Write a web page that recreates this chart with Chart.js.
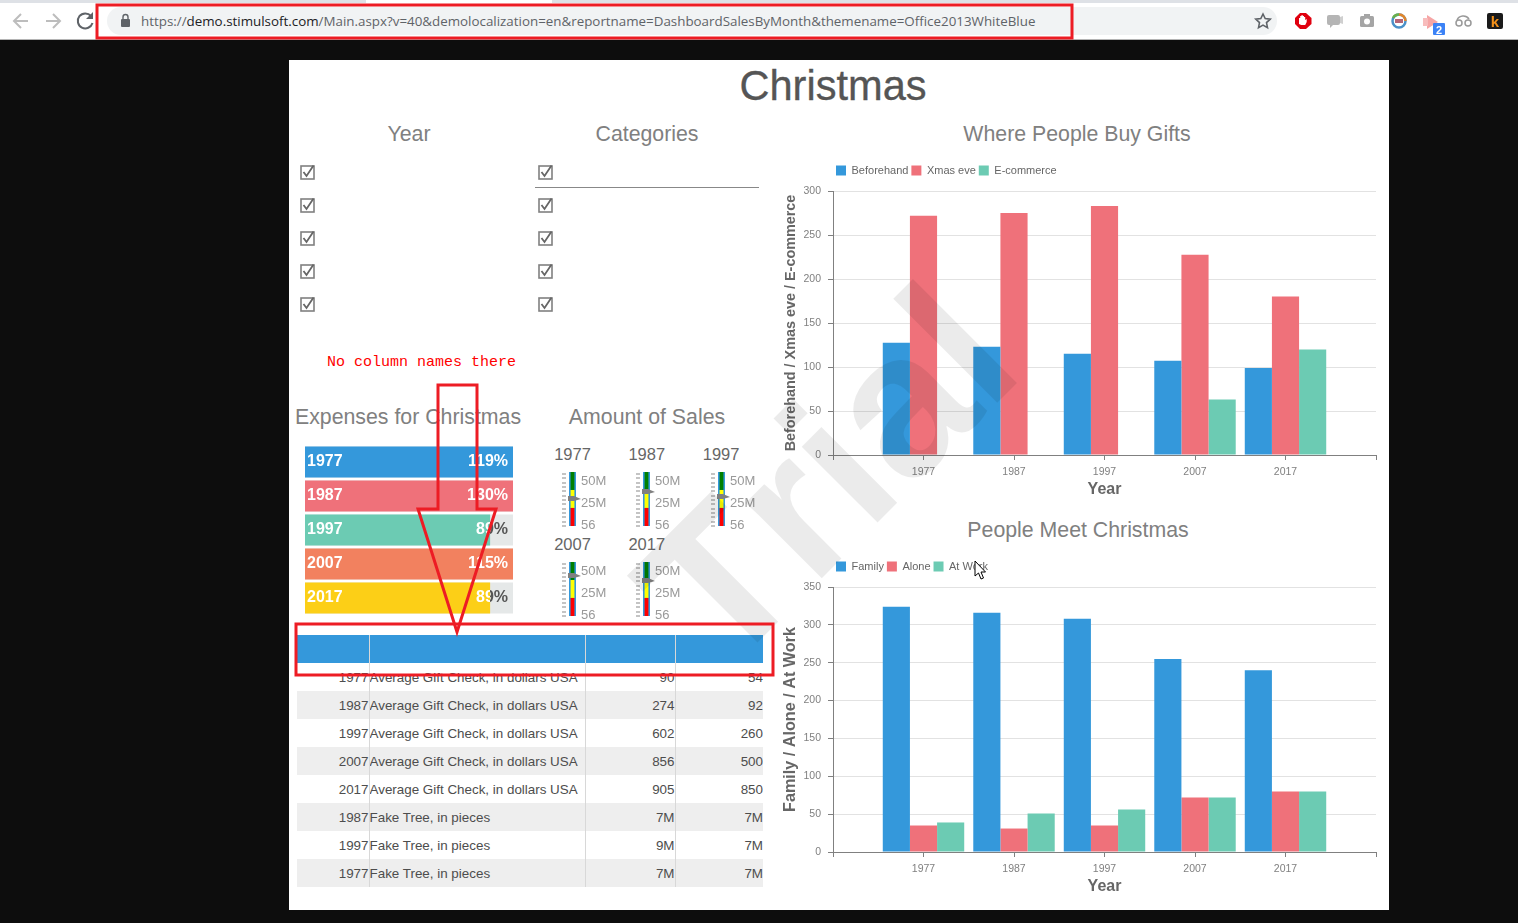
<!DOCTYPE html>
<html>
<head>
<meta charset="utf-8">
<title>Christmas</title>
<script src="https://cdn.jsdelivr.net/npm/chart.js@4/dist/chart.umd.min.js"></script>
<style>
    html, body { margin: 0; padding: 0; width: 1518px; height: 923px; overflow: hidden; background: #0d0d0d; font-family: "Liberation Sans", Arial, sans-serif; }
    .abs { position: absolute; }

    /* browser toolbar */
    #toolbar { position: absolute; left: 0; top: 0; width: 1518px; height: 39px; background: #fff; border-bottom: 1px solid #b4b4b4; }
    #tabs { position: absolute; left: 0; top: 0; width: 1518px; height: 3px; background: linear-gradient(to right, #dee1e6 366px, #fff 366px, #fff 552px, #dee1e6 552px); }
    #omnibox { position: absolute; left: 107px; top: 7px; width: 1170px; height: 28px; border-radius: 14px; background: #f1f3f4; }
    #url { position: absolute; left: 141px; top: 12px; font: 13.36px/18px "Open Sans", sans-serif; color: #5f6368; white-space: nowrap; }
    #url b { font-weight: normal; color: #202124; }

    /* report page */
    #page { position: absolute; left: 289px; top: 60px; width: 1100px; height: 850px; background: #fff; overflow: hidden; }
    .title { position: absolute; text-align: center; white-space: nowrap; color: #808080; font-size: 21.3px; line-height: 26px; transform: translateX(-50%); }
    #report-title { position: absolute; left: 544px; top: 1px; transform: translateX(-50%); font-size: 41.6px; line-height: 50px; color: #555; -webkit-text-stroke: 0.3px #555; }
    #no-columns { position: absolute; left: 38px; top: 294px; font: 15px/18px "Liberation Mono", monospace; color: #ff0000; white-space: nowrap; }
    #cat-line { position: absolute; left: 246px; top: 127px; width: 224px; height: 1px; background: #888; }
    .gauge-year { position: absolute; font-size: 16.5px; line-height: 20px; color: #666; transform: translateX(-50%); }
    canvas { position: absolute; }

    /* table */
    #grid { position: absolute; left: 8px; top: 575px; width: 466px; border-collapse: collapse; table-layout: fixed; font-size: 13.4px; color: #4d4d4d; }
    #grid th { height: 28px; padding: 0; background: #3498db; }
    #grid td { height: 28px; padding: 0; white-space: nowrap; overflow: hidden; text-align: right; }
    #grid th + th, #grid td + td { border-left: 1px solid #d8d8d8; }
    #grid td.name { text-align: left; }
    #grid tr:nth-child(even) td { background: #eeeeee; }

    #overlay { position: absolute; left: 0; top: 0; pointer-events: none; }
</style>
</head>
<body>

<div id="toolbar"><div id="tabs"></div><div id="omnibox"></div></div>
<div id="url">https://<b>demo.stimulsoft.com</b>/Main.aspx?v=40&amp;demolocalization=en&amp;reportname=DashboardSalesByMonth&amp;themename=Office2013WhiteBlue</div>

<div id="page">
    <div id="report-title">Christmas</div>
    <div class="title" style="left:120px;top:61px">Year</div>
    <div class="title" style="left:358px;top:61px">Categories</div>
    <div class="title" style="left:788px;top:61px">Where People Buy Gifts</div>
    <div class="title" style="left:119px;top:344px">Expenses for Christmas</div>
    <div class="title" style="left:358px;top:344px">Amount of Sales</div>
    <div class="title" style="left:789px;top:457px">People Meet Christmas</div>
    <div id="checks"></div>
    <div id="cat-line"></div>
    <div id="no-columns">No column names there</div>
    <div id="gauges"></div>
    <canvas id="expensesChart" width="208" height="170" style="left:16px;top:385px"></canvas>
    <canvas id="giftsChart" width="600" height="340" style="left:491px;top:100px"></canvas>
    <canvas id="meetChart" width="600" height="341" style="left:491px;top:496px"></canvas>
    <table id="grid"><colgroup><col style="width:72px"><col style="width:216px"><col style="width:90px"><col style="width:88px"></colgroup>
        <thead><tr><th></th><th></th><th></th><th></th></tr></thead><tbody></tbody></table>
</div>

<svg id="overlay" width="1518" height="923" xmlns="http://www.w3.org/2000/svg">
    <!-- toolbar icons -->
    <g fill="none" stroke="#bdbdbd" stroke-width="2">
        <path d="M28 21H15M21 14l-7 7 7 7"/>
        <path d="M46 21h13M53 14l7 7-7 7"/>
    </g>
    <path d="M91 16a7.500 7.500 0 1 0 1.500 7" fill="none" stroke="#5f6368" stroke-width="2"/>
    <path d="M93 12v7h-7z" fill="#5f6368"/>
    <rect x="121" y="19" width="9" height="8" rx="1" fill="#5f6368"/>
    <path d="M123 19v-2a2.500 2.500 0 0 1 5 0v2" fill="none" stroke="#5f6368" stroke-width="1.400"/>
    <path d="M1263 14l2.200 4.600 5 .6-3.700 3.400 1 5-4.500-2.500-4.500 2.500 1-5-3.700-3.400 5-.6z" fill="none" stroke="#5f6368" stroke-width="1.600"/>
    <path d="M1300 13h6l5.500 5v6l-5.500 5h-6l-5-5v-6z" fill="#e0000f"/>
    <path d="M1299 24v-6h1.200v-2h1.300v-1h1.200v1h1.300v1h1.200v3l1.500-1v3l-1.500 3h-4z" fill="#fff"/>
    <rect x="1327" y="15" width="13" height="10" rx="2" fill="#b5b5b5"/><path d="M1330 25v3l3-3z" fill="#b5b5b5"/><path d="M1340 17l3-1v8l-3-1z" fill="#cfcfcf"/>
    <rect x="1360" y="16" width="14" height="11" rx="1.500" fill="#a5a5a5"/><circle cx="1367" cy="21.500" r="3" fill="#fff"/><rect x="1364" y="14" width="6" height="3" fill="#a5a5a5"/>
    <circle cx="1399" cy="21" r="6.500" fill="none" stroke="#4a90c8" stroke-width="2.500"/><path d="M1399 14.500a6.500 6.500 0 0 1 6.500 6.500" fill="none" stroke="#e0862d" stroke-width="2.500"/><path d="M1393 18a6.500 6.500 0 0 1 6-3.500" fill="none" stroke="#6ab04c" stroke-width="2.500"/><rect x="1395" y="19" width="8" height="4" fill="#b56576"/>
    <path d="M1427 15l11 7-11 7z" fill="#f6a5a5"/><rect x="1423" y="18" width="5" height="8" fill="#f8bcbc"/>
    <rect x="1433" y="23" width="12" height="12" rx="1" fill="#3b82f6"/><text x="1439" y="33.500" font-size="11" font-weight="bold" fill="#fff" text-anchor="middle" font-family="Liberation Sans">2</text>
    <g fill="none" stroke="#999" stroke-width="1.500"><circle cx="1459" cy="23" r="3"/><circle cx="1468" cy="23" r="3"/><path d="M1457 20a7 7 0 0 1 12-1"/></g>
    <rect x="1487" y="13" width="16" height="16" rx="2" fill="#1a1a1a"/><text x="1495" y="27" font-size="15" font-weight="bold" fill="#f39019" text-anchor="middle" font-family="Liberation Sans">k</text>

    <!-- trial watermark -->
    <text transform="translate(724 676) rotate(-45)" font-family="Liberation Sans" font-weight="bold" font-size="203" fill="rgba(0,0,0,0.08)" style="font-kerning:none">Trial</text>

    <!-- red annotations -->
    <g fill="none" stroke="#ed1c24" stroke-width="3">
        <rect x="97" y="5" width="975" height="33"/>
        <rect x="296" y="624" width="477" height="51"/>
        <path d="M438 385H477V509H496L457 632L418 509H438Z"/>
    </g>

    <!-- mouse pointer -->
    <path d="M975 561v15l3.500-3 2.500 6 2.500-1-2.500-6h4.500z" fill="#fff" stroke="#000" stroke-width="1"/>
</svg>

<script>
// Where People Buy Gifts
const xLabels = ['', '1977', '1987', '1997', '2007', '2017', ''];
const giftNames = ['Beforehand', 'Xmas eve', 'E-commerce'];
const beforehand = [null, 127.5, 123, 115, 107, 99, null];
const xmasEve = [null, 272, 275, 283, 227.5, 180, null];
const eCommerce = [null, 0, 0, 0, 63, 120, null];

// People Meet Christmas
const meetNames = ['Family', 'Alone', 'At Work'];
const family = [null, 324, 316, 308, 255, 240, null];
const alone = [null, 35, 31, 35, 72, 80, null];
const atWork = [null, 39, 51, 56, 72, 80, null];

// Expenses for Christmas
const expenseYears = ['1977', '1987', '1997', '2007', '2017'];
const expensePercent = [119, 130, 89, 115, 89];
const expenseTrack = [100, 100, 100, 100, 100];
const expenseColors = ['#3498db', '#ef717a', '#6ccbb3', '#f2815f', '#fccf17'];

// Amount of Sales, in millions
const gaugeYears = ['1977', '1987', '1997', '2007', '2017'];
const gaugeValues = [30.2, 38.4, 31.9, 44.9, 39.5];
const gaugeBandRed = [-1.2, 19.6];
const gaugeBandYellow = [19.6, 40.3];
const gaugeBandGreen = [40.3, 61];
const gaugeTickValues = [0, 25, 50];
const gaugeTickLabels = ['56', '25M', '50M'];
const gaugeMinorTicks = [0, 5, 10, 15, 20, 25, 30, 35, 40, 45, 50, 55, 60];

// Table rows
const tableYears = ['1977', '1987', '1997', '2007', '2017', '1987', '1997', '1977'];
const tableNames = ['Average Gift Check, in dollars USA', 'Average Gift Check, in dollars USA', 'Average Gift Check, in dollars USA', 'Average Gift Check, in dollars USA', 'Average Gift Check, in dollars USA', 'Fake Tree, in pieces', 'Fake Tree, in pieces', 'Fake Tree, in pieces'];
const tableFirst = ['90', '274', '602', '856', '905', '7M', '9M', '7M'];
const tableSecond = ['54', '92', '260', '500', '850', '7M', '7M', '7M'];

const BLUE = '#3498db', RED = '#ef717a', GREEN = '#6ccbb3';
const FONT = '"Liberation Sans", Arial, sans-serif';
const AXIS = '#808080';

Chart.defaults.font.family = FONT;
Chart.defaults.animation = false;
Chart.defaults.responsive = false;
Chart.defaults.devicePixelRatio = 1;
Chart.defaults.plugins.tooltip.enabled = false;

// Checkbox column
const checks = document.getElementById('checks');
[10.5, 248.5].forEach(left => {
    [105, 138, 171, 204, 237].forEach(top => {
        checks.innerHTML += `<svg class="abs" style="left:${left}px;top:${top - 1}px" width="16" height="17">
            <rect x="1" y="2" width="13" height="13" fill="none" stroke="#808080" stroke-width="1.6"/>
            <path d="M3.500 8l3 4 7-10.500" fill="none" stroke="#666" stroke-width="1.800"/></svg>`;
    });
});

// Table body
const tbody = document.querySelector('#grid tbody');
tableYears.forEach((year, i) => {
    tbody.innerHTML += `<tr><td>${year}</td><td class="name">${tableNames[i]}</td><td>${tableFirst[i]}</td><td>${tableSecond[i]}</td></tr>`;
});

// Adds room under the legend, the plot starts lower than the legend box
const legendGap = {
    id: 'legendGap',
    beforeInit(chart) {
        const fit = chart.legend.fit;
        chart.legend.fit = function () {
            fit.call(this);
            this.height = 29;
        };
    }
};

function groupedBars(id, names, seriesList, yMax, yTitle, yTitleSize, yTitlePad) {
    const colors = [BLUE, RED, GREEN];
    return new Chart(document.getElementById(id), {
        type: 'bar',
        data: {
            labels: xLabels,
            datasets: seriesList.map((values, i) => ({
                label: names[i],
                data: values,
                backgroundColor: colors[i],
                borderWidth: 0,
                categoryPercentage: 0.9,
                barPercentage: 1
            }))
        },
        plugins: [legendGap],
        options: {
            layout: { autoPadding: false, padding: { top: 2, right: 4 } },
            plugins: {
                legend: {
                    position: 'top',
                    align: 'start',
                    fullSize: false,
                    labels: { boxWidth: 10, boxHeight: 10, padding: 3, color: '#666', font: { size: 11 } }
                }
            },
            scales: {
                x: {
                    offset: false,
                    afterFit(axis) {
                        axis.height = 45;
                        axis.paddingLeft = 0;
                        axis.paddingRight = 0;
                    },
                    grid: { offset: false, drawOnChartArea: false, tickLength: 5, tickColor: AXIS },
                    border: { color: AXIS },
                    ticks: { color: AXIS, font: { size: 10.5 }, padding: 6, maxRotation: 0, autoSkip: false },
                    title: { display: true, text: 'Year', color: '#666', font: { size: 16, weight: 'bold' }, padding: { top: 0, bottom: 1 } }
                },
                y: {
                    min: 0,
                    max: yMax,
                    afterFit(axis) { axis.width = 53; },
                    grid: { color: '#e2e2e2', tickLength: 5, tickColor: AXIS },
                    border: { color: AXIS },
                    ticks: { stepSize: 50, color: AXIS, font: { size: 10.5 }, padding: 7 },
                    title: { display: true, text: yTitle, color: '#666', font: { size: yTitleSize, weight: 'bold' }, padding: { top: yTitlePad, bottom: 0 } }
                }
            }
        }
    });
}

groupedBars('giftsChart', giftNames, [beforehand, xmasEve, eCommerce], 300, 'Beforehand / Xmas eve / E-commerce', 14.4, 2);
groupedBars('meetChart', meetNames, [family, alone, atWork], 350, 'Family / Alone / At Work', 16.2, 1);

// Labels over the expense bars: white over the bar, grey over the track
const expenseLabels = {
    id: 'expenseLabels',
    afterDatasetsDraw(chart) {
        const { ctx, chartArea } = chart;
        const bars = chart.getDatasetMeta(0).data;
        ctx.save();
        ctx.font = 'bold 16px ' + FONT;
        ctx.textBaseline = 'middle';
        bars.forEach((bar, i) => {
            ctx.textAlign = 'left';
            ctx.fillStyle = '#fff';
            ctx.fillText(expenseYears[i], chartArea.left + 2, bar.y);
            const right = chartArea.right - 5;
            const text = expensePercent[i] + '%';
            ctx.textAlign = 'right';
            ctx.save();
            ctx.beginPath();
            ctx.rect(Math.min(bar.x, chartArea.right), chartArea.top, chartArea.right, chartArea.height);
            ctx.clip();
            ctx.fillStyle = '#555';
            ctx.fillText(text, right, bar.y);
            ctx.restore();
            ctx.save();
            ctx.beginPath();
            ctx.rect(chartArea.left, chartArea.top, Math.min(bar.x, chartArea.right), chartArea.height);
            ctx.clip();
            ctx.fillStyle = '#fff';
            ctx.fillText(text, right, bar.y);
            ctx.restore();
        });
        ctx.restore();
    }
};

new Chart(document.getElementById('expensesChart'), {
    type: 'bar',
    data: {
        labels: expenseYears,
        datasets: [
            { data: expensePercent, backgroundColor: expenseColors, order: 1 },
            { data: expenseTrack, backgroundColor: '#e5e8e8', order: 2 }
        ]
    },
    plugins: [expenseLabels],
    options: {
        indexAxis: 'y',
        layout: { autoPadding: false, padding: 0 },
        plugins: { legend: { display: false } },
        datasets: { bar: { categoryPercentage: 1, barPercentage: 31 / 34, borderWidth: 0 } },
        scales: {
            x: { display: false, min: 0, max: 100 },
            y: { display: false, stacked: true }
        }
    }
});

// Thermometer marks: scale dashes on the left and the arrow for the value
const gaugeMarks = {
    id: 'gaugeMarks',
    afterDatasetsDraw(chart, args, opts) {
        const { ctx, chartArea, scales } = chart;
        ctx.save();
        ctx.fillStyle = '#c4c4c4';
        gaugeMinorTicks.forEach(v => {
            ctx.fillRect(chartArea.left - 7, Math.round(scales.y.getPixelForValue(v)), 4, 2);
        });
        const y = Math.round(scales.y.getPixelForValue(opts.value));
        ctx.fillStyle = '#808080';
        ctx.beginPath();
        ctx.moveTo(chartArea.left - 1, y - 3);
        ctx.lineTo(chartArea.left + 5, y - 3);
        ctx.lineTo(chartArea.right + 5, y);
        ctx.lineTo(chartArea.left + 5, y + 2);
        ctx.lineTo(chartArea.left - 1, y + 2);
        ctx.closePath();
        ctx.fill();
        ctx.restore();
    }
};

const gaugeBox = document.getElementById('gauges');
const gaugeLeft = [268, 342.3, 416.6, 268, 342.3];
const gaugeTop = [408, 408, 408, 498, 498];
gaugeYears.forEach((year, i) => {
    const label = document.createElement('div');
    label.className = 'gauge-year';
    label.style.left = (gaugeLeft[i] + 15.5) + 'px';
    label.style.top = (gaugeTop[i] - 24) + 'px';
    label.textContent = year;
    gaugeBox.appendChild(label);

    const canvas = document.createElement('canvas');
    canvas.width = 52;
    canvas.height = 66;
    canvas.style.left = gaugeLeft[i] + 'px';
    canvas.style.top = gaugeTop[i] + 'px';
    gaugeBox.appendChild(canvas);

    new Chart(canvas, {
        type: 'bar',
        data: {
            labels: [year],
            datasets: [
                { data: [[gaugeBandRed[0], gaugeBandRed[1]]], backgroundColor: '#ff0000', barPercentage: 0.55, order: 1 },
                { data: [[gaugeBandYellow[0], gaugeBandYellow[1]]], backgroundColor: '#ffff00', barPercentage: 0.55, order: 1 },
                { data: [[gaugeBandGreen[0], gaugeBandGreen[1]]], backgroundColor: '#008000', barPercentage: 0.55, order: 1 },
                { data: [[gaugeBandRed[0], gaugeBandGreen[1]]], backgroundColor: BLUE, barPercentage: 1, order: 2 }
            ]
        },
        plugins: [gaugeMarks],
        options: {
            layout: { autoPadding: false, padding: { left: 12, top: 4, bottom: 8 } },
            plugins: { legend: { display: false }, gaugeMarks: { value: gaugeValues[i] } },
            datasets: { bar: { categoryPercentage: 1, borderWidth: 0 } },
            scales: {
                x: { display: false, stacked: true },
                y: {
                    position: 'right',
                    min: gaugeBandRed[0],
                    max: gaugeBandGreen[1],
                    afterFit(axis) {
                        axis.width = 33;
                        axis.paddingTop = 0;
                        axis.paddingBottom = 0;
                    },
                    afterBuildTicks(axis) { axis.ticks = gaugeTickValues.map(value => ({ value })); },
                    grid: { display: false, drawTicks: false },
                    border: { display: false },
                    ticks: {
                        padding: 5,
                        color: '#999',
                        font: { size: 13 },
                        callback: value => gaugeTickLabels[gaugeTickValues.indexOf(value)]
                    }
                }
            }
        }
    });
});
</script>
</body>
</html>
